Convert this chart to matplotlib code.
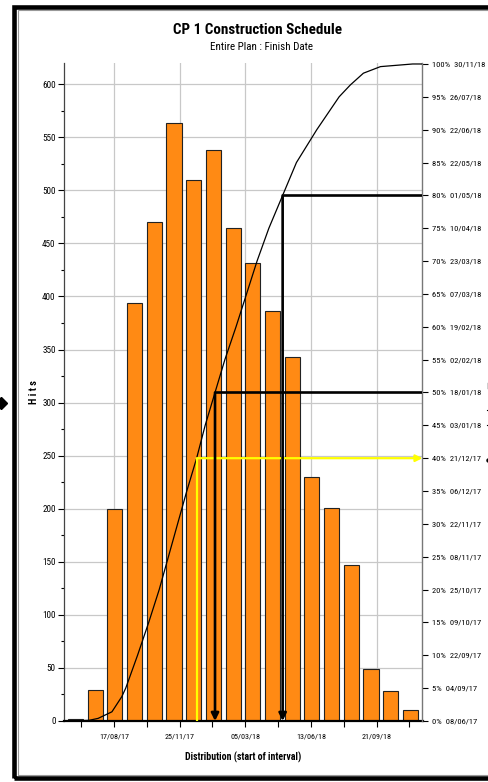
import matplotlib
matplotlib.use('Agg')
import matplotlib.pyplot as plt
import matplotlib.dates as mdates
from matplotlib import font_manager
from matplotlib.ticker import MultipleLocator, FixedLocator
from matplotlib.patches import Rectangle
from matplotlib.lines import Line2D
from datetime import datetime, timedelta

# ---------------- data ----------------
interval_start = "08/06/17"
interval_days = 30
hits = [2, 29, 200, 394, 470, 563, 510, 538, 465, 432, 386, 343, 230, 201, 147, 49, 28, 10]

pct_levels = [0, 5, 10, 15, 20, 25, 30, 35, 40, 45, 50, 55, 60, 65, 70, 75, 80, 85, 90, 95, 100]
pct_dates = ["08/06/17", "04/09/17", "22/09/17", "09/10/17", "25/10/17", "08/11/17",
             "22/11/17", "06/12/17", "21/12/17", "03/01/18", "18/01/18", "02/02/18",
             "19/02/18", "07/03/18", "23/03/18", "10/04/18", "01/05/18", "22/05/18",
             "22/06/18", "26/07/18", "30/11/18"]

# cumulative curve
curve_dates = ["08/06/17", "10/07/17", "24/07/17", "14/08/17", "29/08/17", "04/09/17",
               "22/09/17", "09/10/17", "25/10/17", "08/11/17", "22/11/17", "06/12/17",
               "21/12/17", "03/01/18", "18/01/18", "02/02/18", "19/02/18", "07/03/18",
               "23/03/18", "10/04/18", "01/05/18", "22/05/18", "22/06/18", "26/07/18",
               "12/08/18", "01/09/18", "27/09/18", "15/11/18", "30/11/18"]
curve_pct = [0, 0.1, 0.4, 1.4, 3.7, 5, 10, 15, 20, 25, 30, 35, 40, 45, 50, 55, 60, 65,
             70, 75, 80, 85, 90, 95, 96.8, 98.6, 99.6, 100, 100]

ref_pct = [40, 50, 80]
ref_dates = ["21/12/17", "18/01/18", "01/05/18"]
ref_colors = ["#FFFF00", "#000000", "#000000"]

x_major_labels = ["17/08/17", "25/11/17", "05/03/18", "13/06/18", "21/09/18"]
x_minor_labels = ["28/06/17", "06/10/17", "14/01/18", "24/04/18", "02/08/18", "10/11/18"]
x_limits = ["02/06/17", "30/11/18"]


def d(s):
    return datetime.strptime(s, "%d/%m/%y")


# pick a narrow sans font if one is installed
_names = {}
for f in font_manager.fontManager.ttflist:
    _names.setdefault(f.name, set()).add(f.stretch)
narrow = None
stretch = 'normal'
for cand in ['Liberation Sans Narrow', 'Arial Narrow', 'Roboto Condensed',
             'Open Sans Condensed', 'Noto Sans Display']:
    if cand in _names:
        narrow = cand
        break
if narrow is None:
    for cand in ['DejaVu Sans', 'Noto Sans', 'Open Sans', 'Roboto']:
        st = _names.get(cand, set())
        if any(s in ('condensed', 'semi-condensed', 'extra-condensed', 75, 87, 62)
               for s in st):
            narrow = cand
            stretch = 'condensed'
            break
if narrow is None:
    narrow = 'Liberation Sans'
    SC = 0.82   # shrink sizes to compensate for wider font
else:
    SC = 1.0

plt.rcParams['font.family'] = [narrow, 'Liberation Sans', 'DejaVu Sans']
plt.rcParams['font.stretch'] = stretch

fig = plt.figure(figsize=(4.89, 7.82), dpi=100)
W, H = 489, 782
ax = fig.add_axes([64 / W, 1 - 721 / H, (422.5 - 64) / W, (721 - 63) / H])
ax2 = ax.twinx()

# bars (left edge = start of interval)
starts = [d(interval_start) + timedelta(days=interval_days * i) for i in range(len(hits))]
ax.bar(starts, hits, width=23.0, align='edge', color='#FF8A14',
       edgecolor='#222222', linewidth=0.8, zorder=2)

ax.set_xlim(d(x_limits[0]), d(x_limits[1]))
ax.set_ylim(0, 620)
ax2.set_ylim(0, 100.15)

# x axis ticks
ax.xaxis.set_major_locator(FixedLocator([mdates.date2num(d(s)) for s in x_major_labels]))
ax.xaxis.set_minor_locator(FixedLocator([mdates.date2num(d(s)) for s in x_minor_labels]))
ax.set_xticklabels(x_major_labels)
ax.tick_params(axis='x', which='both', direction='out', length=4, width=0.8,
               labelsize=5.8 * SC, pad=5, colors='black')

# left axis
ax.yaxis.set_major_locator(MultipleLocator(50))
ax.yaxis.set_minor_locator(MultipleLocator(25))
ax.tick_params(axis='y', which='major', direction='out', length=4, width=0.8,
               labelsize=6.6 * SC, pad=2)
ax.tick_params(axis='y', which='minor', direction='out', length=2.5, width=0.8)
ax.set_ylim(0, 620)

ax.grid(True, which='major', color='#c8c8c8', linewidth=0.9)
ax.set_axisbelow(True)

ax.spines['top'].set_visible(False)
ax2.spines['top'].set_visible(False)
ax.spines['right'].set_visible(False)
ax2.spines['left'].set_visible(False)
ax2.spines['bottom'].set_visible(False)
ax.spines['left'].set_color('#444444')
ax.spines['left'].set_linewidth(0.9)
ax.spines['bottom'].set_color('black')
ax.spines['bottom'].set_linewidth(1.6)
ax2.spines['right'].set_color('#777777')
ax2.spines['right'].set_linewidth(1.0)

# right axis
ax2.set_yticks(pct_levels)
ax2.set_yticklabels([f"{p}%  {s}" for p, s in zip(pct_levels, pct_dates)])
ax2.tick_params(axis='y', direction='out', length=4, width=0.8, labelsize=6.1 * SC,
                pad=3, colors='black')

# cumulative curve
ax2.plot([d(s) for s in curve_dates], curve_pct, color='black', linewidth=0.9, zorder=3)

# reference lines
xmax = d(x_limits[1])
for p, s, c in zip(ref_pct, ref_dates, ref_colors):
    x = d(s)
    if c == "#FFFF00":
        ax2.plot([x, x], [0, p], color=c, linewidth=1.6, solid_capstyle='butt', zorder=4)
        ax2.annotate('', xy=(xmax, p), xytext=(x, p),
                     arrowprops=dict(arrowstyle='-|>', color=c, lw=1.6,
                                     mutation_scale=10, shrinkA=0, shrinkB=0), zorder=4)
    else:
        ax2.plot([x, xmax], [p, p], color=c, linewidth=1.9, solid_capstyle='butt', zorder=4)
        ax2.annotate('', xy=(x, 0), xytext=(x, p),
                     arrowprops=dict(arrowstyle='-|>', color=c, lw=1.9,
                                     mutation_scale=11, shrinkA=0, shrinkB=0), zorder=4)

# titles and labels
fig.text(258 / W, 1 - 30 / H, "CP 1 Construction Schedule", ha='center', va='center',
         fontsize=10.9 * SC, fontweight='bold')
fig.text(261 / W, 1 - 47 / H, "Entire Plan : Finish Date", ha='center', va='center',
         fontsize=7.9 * SC)
fig.text(243 / W, 1 - 757 / H, "Distribution (start of interval)", ha='center',
         va='center', fontsize=7.1 * SC, fontweight='bold')
fig.text(34 / W, 1 - 392 / H, "H i t s", ha='center', va='center', rotation=90,
         fontsize=7.5 * SC, fontweight='bold')

# outer frame
fig.add_artist(Rectangle((14.5 / W, 4 / H), (600 - 15) / W, (775.5 - 4) / H,
                         transform=fig.transFigure, fill=False, edgecolor='black',
                         linewidth=3.3, clip_on=False))
fig.add_artist(Rectangle((17.7 / W, 7.2 / H), (600 - 18) / W, (772.3 - 7.2) / H,
                         transform=fig.transFigure, fill=False, edgecolor='#999999',
                         linewidth=0.8, clip_on=False))

# clipped fragments at the edges
fig.add_artist(Line2D([0.5 / W], [1 - 403 / H], marker='D', markersize=6, color='black',
                      transform=fig.transFigure))
fig.add_artist(Line2D([488 / W], [1 - 460 / H], marker='o', markersize=2.2, color='black',
                      transform=fig.transFigure))
fig.add_artist(Line2D([487 / W, 489 / W], [1 - 425 / H, 1 - 425 / H], color='black',
                      linewidth=0.8, transform=fig.transFigure))
fig.add_artist(Line2D([487 / W, 489 / W], [1 - 410 / H, 1 - 410 / H], color='black',
                      linewidth=0.8, transform=fig.transFigure))
fig.add_artist(Line2D([488 / W, 488 / W], [1 - 383 / H, 1 - 388 / H], color='black',
                      linewidth=1.0, transform=fig.transFigure))

fig.savefig("out.png", dpi=100)
